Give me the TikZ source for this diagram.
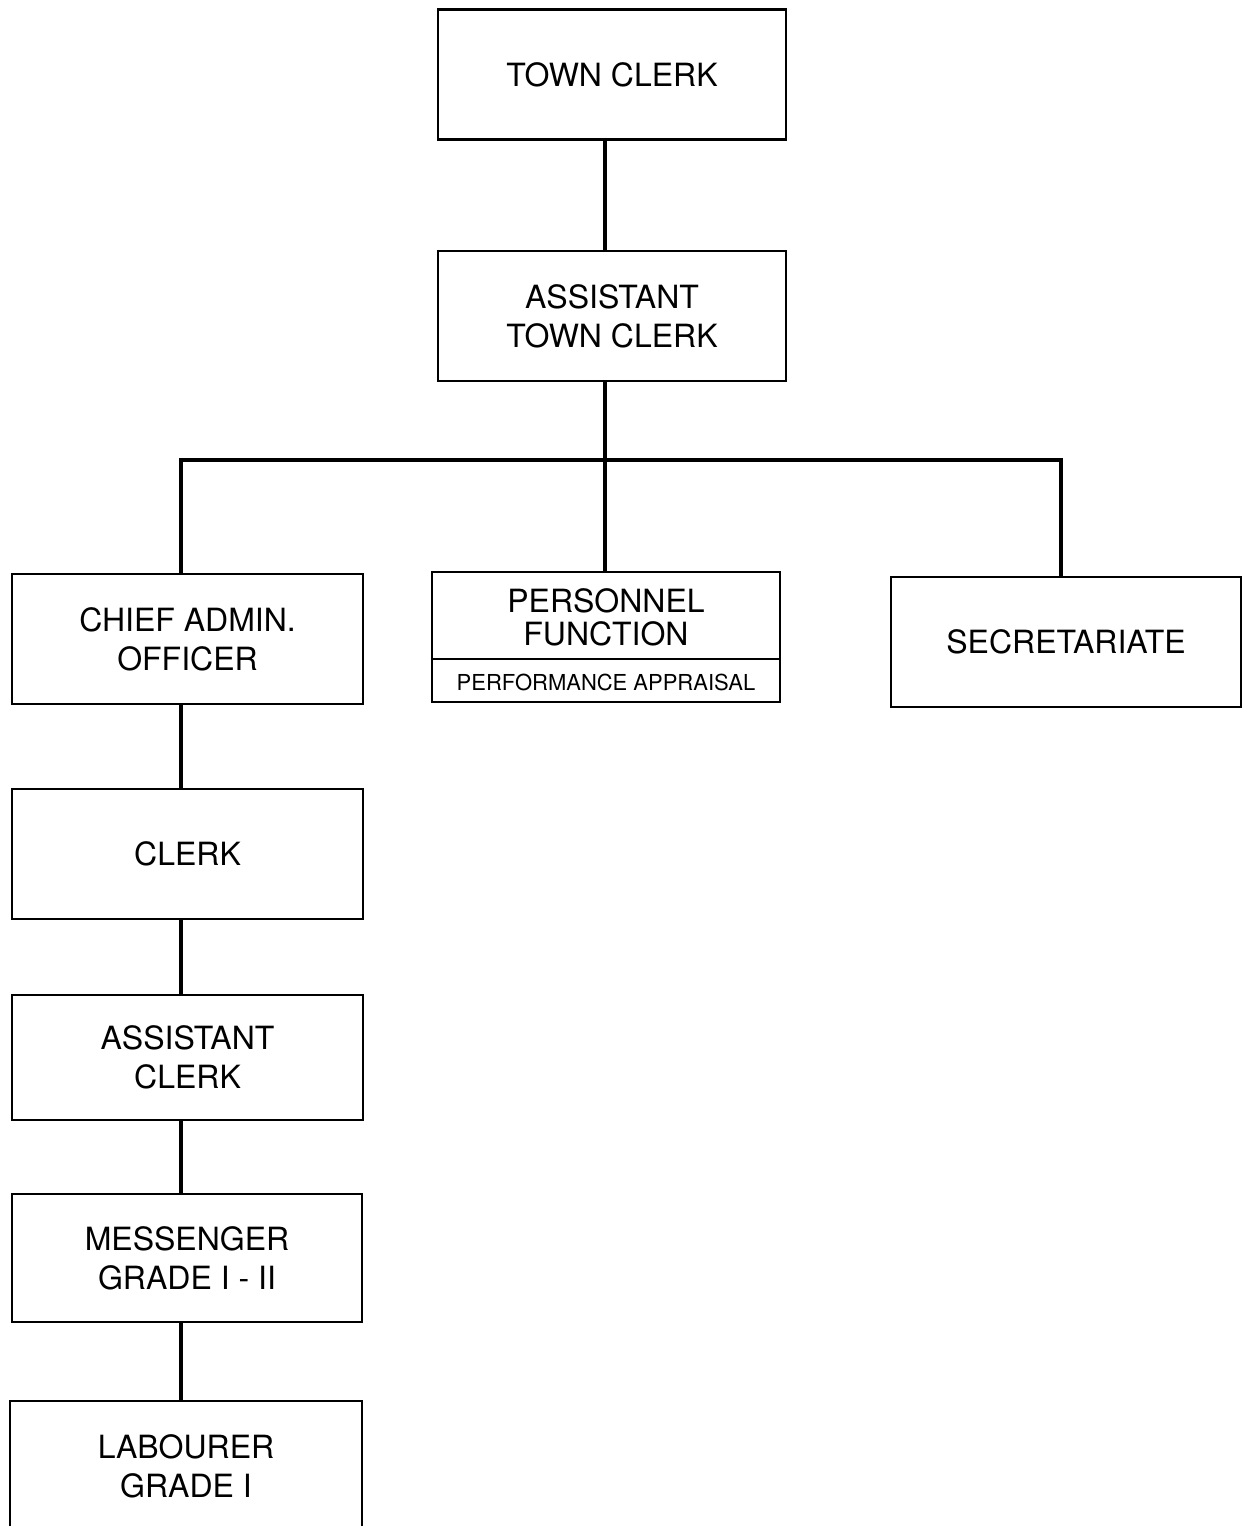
\documentclass[tikz,border=0pt]{standalone}
\usepackage{fontspec}
\setmainfont{TeX Gyre Heros}
\usetikzlibrary{positioning}

\begin{document}
\begin{tikzpicture}[
  x=0.5pt, y=-0.5pt,
  post/.style={draw, line width=1.4pt, align=center, inner sep=0pt,
    minimum width=175pt, minimum height=65pt, font=\fontsize{16}{19.5}\selectfont},
  label/.style={align=center, inner sep=0pt},
  link/.style={line width=2.4pt}
]
\useasboundingbox (0,0) rectangle (1247,1526);

\node[post, minimum width=174pt] (town) at (612,74.5) {TOWN CLERK};
\node[post, minimum width=174pt] (atown) at (612,316) {ASSISTANT\\TOWN CLERK};

\node[post, minimum width=175.5pt] (chief) at (187.5,639) {CHIEF ADMIN.\\OFFICER};
\node[post, minimum width=174pt] (pers) at (606,637) {};
\node[label, font=\fontsize{16}{16.5}\selectfont] (perstitle) at (606,617) {PERSONNEL\\FUNCTION};
\node[label, font=\fontsize{11}{13}\selectfont] (persapp) at (606,682) {PERFORMANCE APPRAISAL};
\draw[line width=0.7pt] (pers.west |- 0,659) -- (pers.east |- 0,659);
\node[post] (secr) at (1066,642) {SECRETARIATE};

\node[post, minimum width=175.5pt] (clerk) at (187.5,854) {CLERK};
\node[post, minimum width=175.5pt, minimum height=62.5pt] (aclerk) at (187.5,1057.5) {ASSISTANT\\CLERK};
\node[post, minimum height=64pt] (msgr) at (187,1258) {MESSENGER\\GRADE I - II};
\node[post, minimum width=176pt] (lab) at (186,1466) {LABOURER\\GRADE I};

\coordinate (bus) at (605,460);
\coordinate (busL) at (181,460);
\coordinate (busR) at (1061,460);

\draw[link] (bus |- town.south) -- (bus |- atown.north);
\draw[link] (bus |- atown.south) -- (bus |- pers.north);
\draw[link] (busL |- chief.north) -- (busL) -- (busR) -- (busR |- secr.north);
\foreach \a/\b in {chief/clerk, clerk/aclerk, aclerk/msgr, msgr/lab}
  \draw[link] (busL |- \a.south) -- (busL |- \b.north);
\end{tikzpicture}
\end{document}
